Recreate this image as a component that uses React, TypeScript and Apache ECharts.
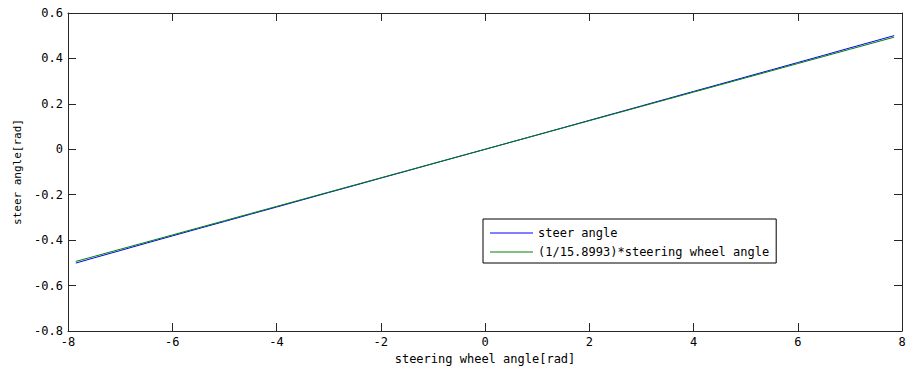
import React, { useEffect, useRef } from "react";
import * as echarts from "echarts";

const steeringWheelAngle = [
  -7.85, -7.5, -7, -6.5, -6, -5.5, -5, -4.5, -4, -3.5, -3, -2.5, -2, -1.5, -1, -0.5, 0,
  0.5, 1, 1.5, 2, 2.5, 3, 3.5, 4, 4.5, 5, 5.5, 6, 6.5, 7, 7.5, 7.85,
];
const steerAngle = [
  -0.501, -0.478, -0.446, -0.4135, -0.3815, -0.3495, -0.318, -0.286, -0.2545, -0.2225,
  -0.1905, -0.159, -0.127, -0.0955, -0.0635, -0.0318, -0.0002, 0.0316, 0.0633, 0.0952,
  0.1272, 0.159, 0.1908, 0.2228, 0.2547, 0.2863, 0.3183, 0.35, 0.382, 0.4138, 0.4462,
  0.478, 0.5005,
];
const scaledWheelAngle = [
  -0.4937, -0.4717, -0.4403, -0.4088, -0.3774, -0.3459, -0.3145, -0.283, -0.2516, -0.2201,
  -0.1887, -0.1572, -0.1258, -0.0943, -0.0629, -0.0314, 0, 0.0314, 0.0629, 0.0943, 0.1258,
  0.1572, 0.1887, 0.2201, 0.2516, 0.283, 0.3145, 0.3459, 0.3774, 0.4088, 0.4403, 0.4717,
  0.4937,
];
const seriesNames = ["steer angle", "(1/15.8993)*steering wheel angle"];
const xTitle = "steering wheel angle[rad]";
const yTitle = "steer angle[rad]";

const MONO = "'DejaVu Sans Mono', monospace";
const AXIS = "#262626";

export default function App() {
  const ref = useRef<HTMLDivElement>(null);
  useEffect(() => {
    if (!ref.current) return;
    const chart = echarts.init(ref.current, undefined, { renderer: "svg" });
    const tick = { show: true, inside: true, length: 8, lineStyle: { color: AXIS } };
    const line = { show: true, onZero: false, lineStyle: { color: AXIS, width: 1 } };
    chart.setOption({
      animation: false,
      backgroundColor: "#ffffff",
      grid: { left: 68, top: 13, right: 8, bottom: 41, containLabel: false },
      xAxis: [
        {
          type: "value",
          min: -8,
          max: 8,
          interval: 2,
          position: "bottom",
          axisLine: line,
          axisTick: tick,
          splitLine: { show: false },
          axisLabel: { color: "#000", fontFamily: MONO, fontSize: 12, margin: 5 },
          name: xTitle,
          nameLocation: "middle",
          nameGap: 20,
          nameTextStyle: { color: "#000", fontFamily: MONO, fontSize: 12 },
        },
        {
          type: "value",
          min: -8,
          max: 8,
          interval: 2,
          position: "top",
          axisLine: line,
          axisTick: tick,
          splitLine: { show: false },
          axisLabel: { show: false },
        },
      ],
      yAxis: [
        {
          type: "value",
          min: -0.8,
          max: 0.6,
          interval: 0.2,
          position: "left",
          axisLine: line,
          axisTick: tick,
          splitLine: { show: false },
          axisLabel: { color: "#000", fontFamily: MONO, fontSize: 12, margin: 5 },
          name: yTitle,
          nameLocation: "middle",
          nameGap: 39,
          nameTextStyle: { color: "#000", fontFamily: MONO, fontSize: 11 },
        },
        {
          type: "value",
          min: -0.8,
          max: 0.6,
          interval: 0.2,
          position: "right",
          axisLine: line,
          axisTick: tick,
          splitLine: { show: false },
          axisLabel: { show: false },
        },
      ],
      legend: {
        orient: "vertical",
        left: 483,
        top: 219,
        padding: [8, 7, 5, 7],
        itemGap: 7,
        itemWidth: 43,
        itemHeight: 14,
        icon: "path://M0,6.5 H43 V7.5 H0 Z",
        borderColor: "#000",
        borderWidth: 1,
        backgroundColor: "#fff",
        textStyle: { color: "#000", fontFamily: MONO, fontSize: 12 },
        data: seriesNames,
      },
      series: [
        {
          name: seriesNames[0],
          type: "line",
          symbol: "none",
          lineStyle: { color: "#0000ff", width: 1 },
          itemStyle: { color: "#0000ff" },
          data: steeringWheelAngle.map((x, i) => [x, steerAngle[i]]),
        },
        {
          name: seriesNames[1],
          type: "line",
          symbol: "none",
          lineStyle: { color: "#008000", width: 1 },
          itemStyle: { color: "#008000" },
          data: steeringWheelAngle.map((x, i) => [x, scaledWheelAngle[i]]),
        },
      ],
    });
    return () => chart.dispose();
  }, []);
  return (
    <div
      ref={ref}
      style={{ position: "absolute", left: 0, top: 0, width: 910, height: 372 }}
    />
  );
}
